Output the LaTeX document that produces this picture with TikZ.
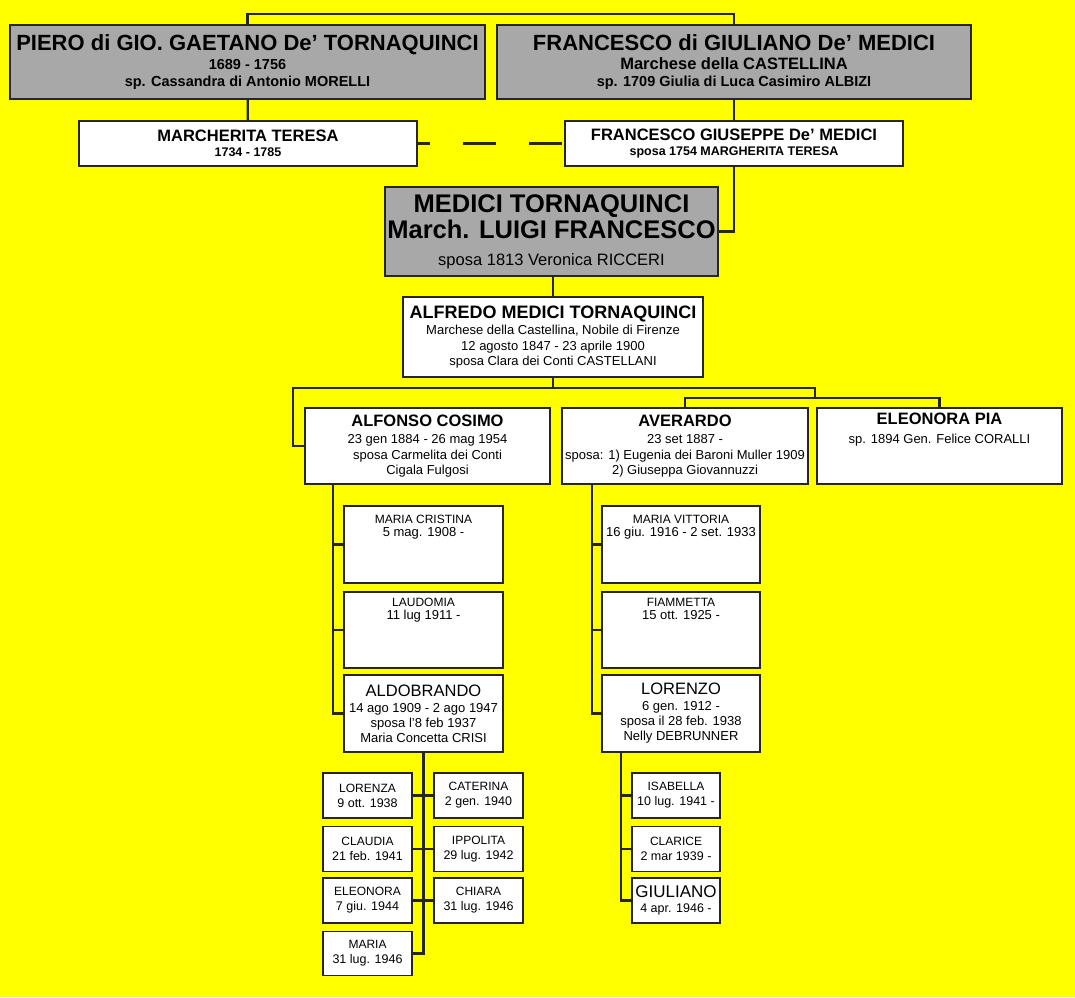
\documentclass[tikz,border=0pt]{standalone}
\usepackage{fontspec}
\setmainfont{Liberation Sans}
\usetikzlibrary{positioning}

\definecolor{bgyellow}{RGB}{255,255,0}
\definecolor{boxgray}{RGB}{168,168,168}
\newcommand{\bname}[2]{{\fontsize{#1}{#1}\selectfont\bfseries #2}}
\newcommand{\rname}[2]{{\fontsize{#1}{#1}\selectfont #2}}
\newcommand{\upbox}[4]{\parbox[c][#2][t]{#1}{\centering\vspace*{#3}#4\par}}

\begin{document}
\begin{tikzpicture}[
    x=1pt, y=-1pt,
    person/.style={draw=black!85, line width=1.9pt, fill=white, inner sep=0pt, align=center, font=\fontsize{13}{15.5}\selectfont},
    elder/.style={person, fill=boxgray},
    grand/.style={person, minimum width=89pt, minimum height=45pt, font=\fontsize{12.5}{15}\selectfont},
    link/.style={draw=black!85, line width=2.3pt},
    marriage/.style={link, dash pattern=on 33pt off 33pt, dash phase=21pt}
]
    \fill[bgyellow] (0,0) rectangle (1075,997);
    \useasboundingbox (0,0) rectangle (1075,997);

    % ancestors
    \node (piero) [elder, minimum width=475pt, minimum height=74pt, font=\fontsize{14.5}{16.5}\selectfont\bfseries] at (247.5,62)
        {\bname{22}{PIERO di GIO. GAETANO De' TORNAQUINCI}\\[3pt] 1689 - 1756\\ sp. Cassandra di Antonio MORELLI};
    \node (francesco) [elder, minimum width=474pt, minimum height=74pt, font=\fontsize{14.5}{16.5}\selectfont\bfseries] at (734,62)
        {\bname{22}{FRANCESCO di GIULIANO De' MEDICI}\\[3pt] \bname{16.5}{Marchese della CASTELLINA}\\ sp. 1709 Giulia di Luca Casimiro ALBIZI};
    \node (marcherita) [person, minimum width=338pt, minimum height=45pt, font=\fontsize{12.5}{15}\selectfont\bfseries] at (248,143.5)
        {\bname{16.5}{MARCHERITA TERESA}\\ 1734 - 1785};
    \node (fg) [person, minimum width=338pt, minimum height=45pt, font=\fontsize{12.5}{15}\selectfont\bfseries] at (734,143.5)
        {\bname{16.5}{FRANCESCO GIUSEPPE De' MEDICI}\\ sposa 1754 MARGHERITA TERESA};
    \node (luigi) [elder, minimum width=333pt, minimum height=89pt, font=\fontsize{16.5}{26}\selectfont] at (551.5,231.5)
        {\bname{25.5}{MEDICI TORNAQUINCI}\\ \bname{25.5}{March. LUIGI FRANCESCO}\\[1pt] sposa 1813 Veronica RICCERI};
    \node (alfredo) [person, minimum width=300pt, minimum height=80pt] at (553,337)
        {\bname{18}{ALFREDO MEDICI TORNAQUINCI}\\[1pt] Marchese della Castellina, Nobile di Firenze\\ 12 agosto 1847 - 23 aprile 1900\\ sposa Clara dei Conti CASTELLANI};

    % children of Alfredo
    \node (ac) [person, minimum width=245pt, minimum height=76pt] at (427.5,446)
        {\bname{16.5}{ALFONSO COSIMO}\\[2pt] 23 gen 1884 - 26 mag 1954\\ sposa Carmelita dei Conti\\ Cigala Fulgosi};
    \node (averardo) [person, minimum width=246pt, minimum height=76pt] at (685,446)
        {\bname{16.5}{AVERARDO}\\[2pt] 23 set 1887 -\\ sposa: 1) Eugenia dei Baroni Muller 1909\\ 2) Giuseppa Giovannuzzi};
    \node (eleonorapia) [person] at (939.5,446)
        {\upbox{245pt}{76pt}{5pt}{\bname{16.5}{ELEONORA PIA}\\[3pt] sp. 1894 Gen. Felice CORALLI}};

    % children of Alfonso Cosimo and Averardo
    \node (mc) [person, font=\fontsize{13}{13.5}\selectfont] at (423.5,544.5)
        {\upbox{159pt}{77pt}{9pt}{\rname{12}{MARIA CRISTINA}\\ 5 mag. 1908 -}};
    \node (laudomia) [person, font=\fontsize{13}{13.5}\selectfont] at (423.5,630)
        {\upbox{159pt}{76pt}{6pt}{\rname{12}{LAUDOMIA}\\ 11 lug 1911 -}};
    \node (aldobrando) [person, minimum width=159pt, minimum height=77pt, font=\fontsize{13}{15}\selectfont] at (423.5,713.5)
        {\rname{16.5}{ALDOBRANDO}\\[1pt] 14 ago 1909 - 2 ago 1947\\ sposa l'8 feb 1937\\ Maria Concetta CRISI};
    \node (mv) [person, font=\fontsize{13}{13.5}\selectfont] at (681,544.5)
        {\upbox{158pt}{77pt}{9pt}{\rname{12}{MARIA VITTORIA}\\ 16 giu. 1916 - 2 set. 1933}};
    \node (fiammetta) [person, font=\fontsize{13}{13.5}\selectfont] at (681,630)
        {\upbox{158pt}{76pt}{6pt}{\rname{12}{FIAMMETTA}\\ 15 ott. 1925 -}};
    \node (lorenzo) [person, minimum width=158pt, minimum height=77pt, font=\fontsize{13}{15}\selectfont] at (681,713.5)
        {\rname{16.5}{LORENZO}\\[1pt] 6 gen. 1912 -\\ sposa il 28 feb. 1938\\ Nelly DEBRUNNER};

    % grandchildren
    \node (lorenza) [grand] at (367.5,795.5) {\rname{12}{LORENZA}\\ 9 ott. 1938};
    \node (claudia) [grand] at (367.5,849) {\rname{12}{CLAUDIA}\\ 21 feb. 1941};
    \node (eleonora) [grand] at (367.5,900.5) {\rname{12}{ELEONORA}\\ 7 giu. 1944};
    \node (maria) [grand, minimum height=44pt] at (367.5,953.5) {\rname{12}{MARIA}\\ 31 lug. 1946};
    \node (caterina) [grand] at (478.5,795.5) {\rname{12}{CATERINA}\\ 2 gen. 1940};
    \node (ippolita) [grand] at (478.5,849) {\rname{12}{IPPOLITA}\\ 29 lug. 1942};
    \node (chiara) [grand] at (478.5,900.5) {\rname{12}{CHIARA}\\ 31 lug. 1946};
    \node (isabella) [grand, minimum width=88pt] at (676,795.5) {\rname{12}{ISABELLA}\\ 10 lug. 1941 -};
    \node (clarice) [grand, minimum width=88pt] at (676,849) {\rname{12}{CLARICE}\\ 2 mar 1939 -};
    \node (giuliano) [grand, minimum width=88pt] at (676,900.5) {\rname{17}{GIULIANO}\\ 4 apr. 1946 -};

    % connectors
    \coordinate (topbar) at (0,14);
    \coordinate (bus) at (553,388);
    \coordinate (busL) at (293,388);
    \coordinate (busR) at (815,398);
    \draw [link] (piero.north) |- (topbar -| francesco.north) -- (francesco.north);
    \draw [link] (piero) -- (marcherita);
    \draw [link] (francesco) -- (fg);
    \draw [marriage] (marcherita) -- (fg);
    \draw [link] (fg.south) |- (luigi.east);
    \draw [link] (luigi.south -| alfredo.north) -- (alfredo.north);
    \draw [link] (alfredo.south) -- (bus);
    \draw [link] (ac.west) -| (busL) -| (busR);
    \draw [link] (averardo.north) |- (busR -| eleonorapia.north) -- (eleonorapia.north);
    \foreach \kid in {mc,laudomia,aldobrando}
        \draw [link] (\kid.west) -| ([xshift=29pt]ac.south west);
    \foreach \kid in {mv,fiammetta,lorenzo}
        \draw [link] (\kid.west) -| ([xshift=31pt]averardo.south west);
    \draw [link] (aldobrando.south) |- (maria.east);
    \foreach \l/\r in {lorenza/caterina,claudia/ippolita,eleonora/chiara}
        \draw [link] (\l) -- (\r);
    \foreach \kid in {isabella,clarice,giuliano}
        \draw [link] (\kid.west) -| ([xshift=20pt]lorenzo.south west);
\end{tikzpicture}
\end{document}
